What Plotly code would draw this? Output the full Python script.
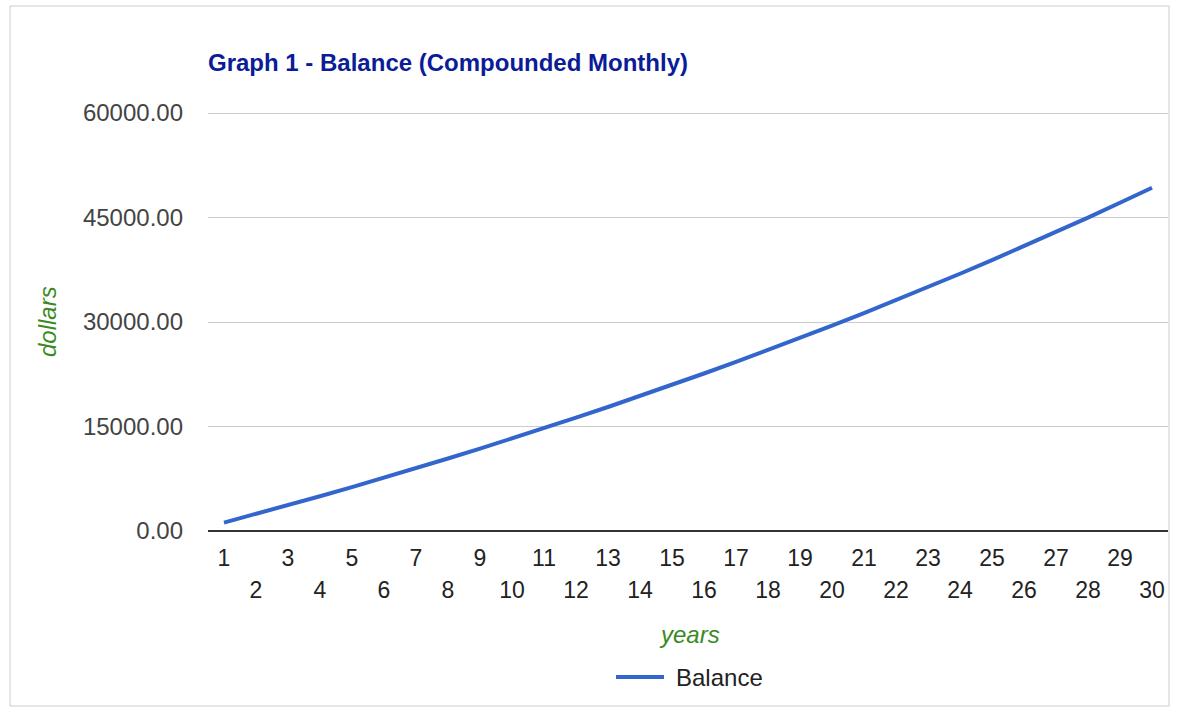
import plotly.graph_objects as go

years = list(range(1, 31))
balance = [1211, 2447, 3707, 4993, 6305, 7643, 9008, 10401, 11822, 13272,
           14751, 16260, 17799, 19369, 20971, 22606, 24273, 25974, 27710, 29480,
           31286, 33129, 35008, 36926, 38883, 40878, 42915, 44992, 47111, 49273]
y_ticks = [0, 15000, 30000, 45000, 60000]
odd_years = [y for y in years if y % 2 == 1]
even_years = [y for y in years if y % 2 == 0]
series_name = "Balance"

W, H = 1194, 716
L, R, T, B = 208, 1168, 113, 531

FONT = "Arial, Liberation Sans, sans-serif"
BLUE = "#3366cc"
GREEN = "#3a8a22"

fig = go.Figure()
fig.add_trace(go.Scatter(x=years, y=balance, mode="lines", name=series_name,
                         line=dict(color=BLUE, width=4), showlegend=False))
# invisible trace to host the second row of x tick labels
fig.add_trace(go.Scatter(x=years, y=balance, mode="lines", xaxis="x2",
                         line=dict(color="rgba(0,0,0,0)"), showlegend=False,
                         hoverinfo="skip"))

def px_x(p):
    return (p - L) / (R - L)

def px_y(p):
    return (B - p) / (B - T)

fig.update_layout(
    width=W, height=H,
    margin=dict(l=L, r=W - R, t=T, b=H - B),
    paper_bgcolor="white", plot_bgcolor="white",
    font=dict(family=FONT, size=24, color="#222222"),
    title=dict(text="<b>Graph 1 - Balance (Compounded Monthly)</b>",
               font=dict(family=FONT, size=24, color="#0a1c96"),
               xref="paper", x=0, xanchor="left",
               yref="container", y=1 - 63 / H, yanchor="middle"),
    xaxis=dict(range=[0.5, 30.5], tickvals=odd_years, ticktext=[str(v) for v in odd_years],
               showgrid=False, zeroline=False, showline=False, ticks="",
               ticklabelstandoff=11,
               tickfont=dict(size=23, color="#222222")),
    xaxis2=dict(range=[0.5, 30.5], overlaying="x", side="bottom", anchor="y",
                tickvals=even_years, ticktext=[str(v) for v in even_years],
                showgrid=False, zeroline=False, showline=False, ticks="",
                ticklabelstandoff=43,
                tickfont=dict(size=23, color="#222222")),
    yaxis=dict(range=[0, y_ticks[-1]], tickvals=y_ticks, tickformat=".2f",
               showgrid=True, gridcolor="#cccccc", gridwidth=1,
               zeroline=True, zerolinecolor="#333333", zerolinewidth=2,
               showline=False, ticks="", ticklabelstandoff=24,
               tickfont=dict(size=24, color="#444444")),
    showlegend=False,
    shapes=[dict(type="rect", xref="paper", yref="paper",
                 x0=px_x(10), x1=px_x(1169), y0=px_y(706), y1=px_y(6),
                 line=dict(color="#cccccc", width=1), fillcolor="rgba(0,0,0,0)",
                 layer="below"),
            # top gridline (at the edge of the range, culled by plotly)
            dict(type="line", xref="paper", yref="paper",
                 x0=0, x1=1, y0=px_y(T + 0.5), y1=px_y(T + 0.5),
                 line=dict(color="#cccccc", width=1), layer="below"),
            # legend swatch
            dict(type="line", xref="paper", yref="paper",
                 x0=px_x(616), x1=px_x(664), y0=px_y(677), y1=px_y(677),
                 line=dict(color=BLUE, width=4))],
    annotations=[
        dict(text="<i>years</i>", xref="paper", yref="paper",
             x=px_x(689), y=px_y(634), xanchor="center", yanchor="middle",
             showarrow=False, font=dict(size=24, color=GREEN)),
        dict(text="<i>dollars</i>", xref="paper", yref="paper",
             x=px_x(47), y=px_y(322), xanchor="center", yanchor="middle",
             textangle=-90, showarrow=False, font=dict(size=24, color=GREEN)),
        dict(text=series_name, xref="paper", yref="paper",
             x=px_x(674), y=px_y(677), xanchor="left", yanchor="middle",
             showarrow=False, font=dict(size=24, color="#222222")),
    ],
)

fig.write_html("out.html")
